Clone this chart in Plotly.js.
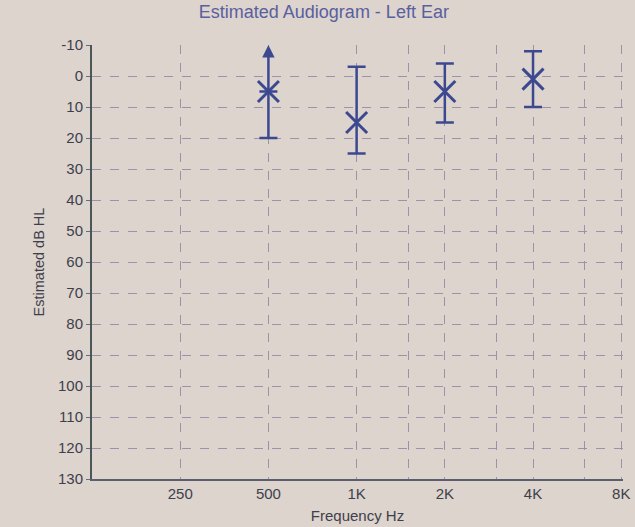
<!DOCTYPE html>
<html>
<head>
<meta charset="utf-8">
<script src="https://cdn.plot.ly/plotly-3.0.1.min.js"></script>
<style>html,body{margin:0;padding:0;background:#dcd4cd;}#chart{width:635px;height:527px;}</style>
</head>
<body>
<div id="chart"></div>
<script>
// Data
const frequencies = [500, 1000, 2000, 4000];      // Hz
const thresholds  = [5, 15, 5, 1];                // estimated dB HL (X marks)
const rangeTop    = [-10, -3, -4, -8];            // upper end of range (better hearing)
const rangeBottom = [20, 25, 15, 10];             // lower end of range
const arrowUp     = [true, false, false, false];  // range continues beyond chart top

const xTickVals  = [250, 500, 1000, 1500, 2000, 3000, 4000, 6000, 8000];
const xTickText  = ['250', '500', '1K', '', '2K', '', '4K', '', '8K'];
const yTickVals  = [-10, 0, 10, 20, 30, 40, 50, 60, 70, 80, 90, 100, 110, 120, 130];
const yTickText  = ['-10', '0', '10', '20', '30', '40', '50', '60', '70', '80', '90', '100', '110', '120', '130'];

const markColor = '#3c4890';
const gridColor = '#9d92aa';

const plusArr  = rangeBottom.map((b, i) => b - thresholds[i]);
const minusArr = rangeTop.map((t, i) => arrowUp[i] ? 0 : thresholds[i] - t);

const trace = {
  type: 'scatter',
  mode: 'markers',
  x: frequencies,
  y: thresholds,
  marker: {symbol: 'x-thin-open', size: 21, color: markColor, line: {color: markColor, width: 3}},
  error_y: {type: 'data', symmetric: false, array: plusArr, arrayminus: minusArr,
            color: markColor, thickness: 2.5, width: 9},
  cliponaxis: false,
  hoverinfo: 'skip'
};

const annotations = [];
frequencies.forEach((f, i) => {
  if (arrowUp[i]) {
    annotations.push({
      x: Math.log10(f), y: rangeTop[i], xref: 'x', yref: 'y',
      ax: Math.log10(f), ay: thresholds[i], axref: 'x', ayref: 'y',
      text: '', showarrow: true, arrowhead: 2, arrowsize: 1, arrowwidth: 2.5,
      arrowcolor: markColor, standoff: 0, startstandoff: 0
    });
  }
});

const layout = {
  width: 635, height: 527,
  paper_bgcolor: '#dcd4cd',
  plot_bgcolor: '#dcd4cd',
  margin: {l: 92, r: 12, t: 45, b: 48},
  showlegend: false,
  font: {family: 'Liberation Sans, Arial, sans-serif', color: '#3f3f4c'},
  title: {text: 'Estimated Audiogram - Left Ear', x: 0.51, xanchor: 'center', y: 0.99, yanchor: 'top',
          font: {size: 18, color: '#5a5f9f', family: 'Liberation Sans, Arial, sans-serif'}},
  xaxis: {
    type: 'log', range: [Math.log10(125), Math.log10(8000) + 0.006],
    tickmode: 'array', tickvals: xTickVals, ticktext: xTickText,
    ticklabeloverflow: 'allow',
    showgrid: true, gridcolor: gridColor, griddash: 'dash', gridwidth: 1,
    showline: true, linecolor: '#5d5d6e', linewidth: 1.5,
    ticks: '', zeroline: false,
    tickfont: {size: 15, color: '#3f3f4c'},
    title: {text: 'Frequency Hz', font: {size: 15, color: '#3f3f4c'}, standoff: 10}
  },
  yaxis: {
    range: [130, -10],
    tickmode: 'array', tickvals: yTickVals, ticktext: yTickText,
    showgrid: true, gridcolor: gridColor, griddash: 'dash', gridwidth: 1,
    showline: true, linecolor: '#4b5756', linewidth: 2,
    ticks: 'outside', ticklen: 4, tickcolor: '#6a6a78',
    zeroline: false,
    tickfont: {size: 15, color: '#3f3f4c'},
    title: {text: 'Estimated dB HL', font: {size: 14.5, color: '#3f3f4c'}, standoff: 10}
  },
  annotations: annotations
};

Plotly.newPlot('chart', [trace], layout, {displayModeBar: false, staticPlot: true});
</script>
</body>
</html>
